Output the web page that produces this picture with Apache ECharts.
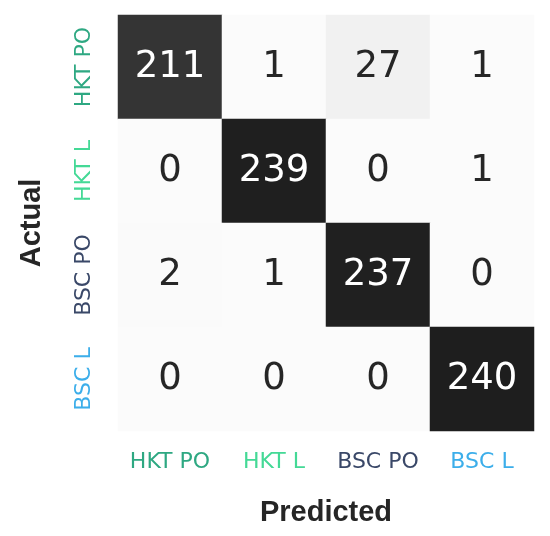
<!DOCTYPE html>
<html>
<head>
<meta charset="utf-8">
<script src="https://cdn.jsdelivr.net/npm/echarts@6/dist/echarts.min.js"></script>
<style>html,body{margin:0;padding:0;background:#fff;}#c{width:550px;height:536px;}</style>
</head>
<body>
<div id="c"></div>
<script>
var predictedLabels = ['HKT PO', 'HKT L', 'BSC PO', 'BSC L'];
var actualLabels = ['HKT PO', 'HKT L', 'BSC PO', 'BSC L'];
var labelColors = ['#2ea882', '#44d996', '#3a4868', '#3caeea'];
var rowHKTPO = [211, 1, 27, 1];
var rowHKTL = [0, 239, 0, 1];
var rowBSCPO = [2, 1, 237, 0];
var rowBSCL = [0, 0, 0, 240];
var rows = [rowHKTPO, rowHKTL, rowBSCPO, rowBSCL];

var data = [];
rows.forEach(function (row, r) {
  row.forEach(function (v, c) { data.push([c, r, v]); });
});

function labelColor(v) {
  return labelColors[predictedLabels.indexOf(v)];
}

var chart = echarts.init(document.getElementById('c'));
chart.setOption({
  backgroundColor: '#ffffff',
  animation: false,
  grid: { left: 118, top: 15, width: 416, height: 416, containLabel: false, outerBoundsMode: 'none' },
  xAxis: {
    type: 'category',
    data: predictedLabels,
    axisLine: { show: false },
    axisTick: { show: false },
    splitLine: { show: false },
    axisLabel: {
      interval: 0,
      hideOverlap: false,
      margin: 20,
      fontFamily: 'DejaVu Sans',
      fontSize: 22,
      color: labelColor
    },
    name: 'Predicted',
    nameLocation: 'middle',
    nameGap: 67,
    nameTextStyle: { fontFamily: 'Liberation Sans', fontWeight: 'bold', fontSize: 29, color: '#262626' }
  },
  yAxis: {
    type: 'category',
    data: actualLabels,
    inverse: true,
    axisLine: { show: false },
    axisTick: { show: false },
    splitLine: { show: false },
    axisLabel: {
      interval: 0,
      hideOverlap: false,
      rotate: 90,
      margin: 23,
      fontFamily: 'DejaVu Sans',
      fontSize: 22,
      color: labelColor
    },
    name: 'Actual',
    nameLocation: 'middle',
    nameRotate: 90,
    nameGap: 72,
    nameTextStyle: { fontFamily: 'Liberation Sans', fontWeight: 'bold', fontSize: 29, color: '#262626' }
  },
  visualMap: {
    show: false,
    type: 'continuous',
    min: 0,
    max: 240,
    dimension: 2,
    inRange: {
      color: ['#fbfbfb', '#f0f0f0', '#d9d9d9', '#bdbdbd', '#969696', '#737373', '#525252', '#353535', '#1e1e1e']
    }
  },
  series: [{
    type: 'heatmap',
    data: data,
    label: {
      show: true,
      fontFamily: 'DejaVu Sans',
      fontSize: 37,
      formatter: function (p) {
        return p.value[2] > 120 ? '{w|' + p.value[2] + '}' : '{d|' + p.value[2] + '}';
      },
      rich: {
        w: { color: '#ffffff', fontFamily: 'DejaVu Sans', fontSize: 37 },
        d: { color: '#262626', fontFamily: 'DejaVu Sans', fontSize: 37 }
      }
    },
    itemStyle: { borderWidth: 0 },
    emphasis: { disabled: true }
  }]
});
</script>
</body>
</html>
